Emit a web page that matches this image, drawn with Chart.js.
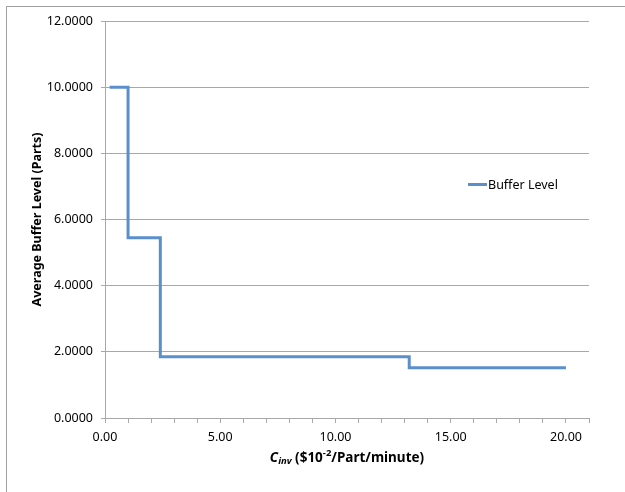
<!DOCTYPE html>
<html>
<head>
<meta charset="utf-8">
<script src="https://cdn.jsdelivr.net/npm/chart.js@4/dist/chart.umd.min.js"></script>
<style>
  html, body { margin: 0; padding: 0; background: #fff; }
  #wrap { width: 625px; height: 492px; position: relative; }
</style>
</head>
<body>
<div id="wrap"><canvas id="myChart" width="625" height="492"></canvas></div>
<script>
// step points
const costs = [0.2, 1.0, 2.4, 13.2, 20.0];
const bufferLevels = [10.0, 5.45, 1.85, 1.52, 1.52];
const seriesName = 'Buffer Level';
const yTitle = 'Average Buffer Level (Parts)';

const FONT = "'Noto Sans', 'Liberation Sans', sans-serif";
const lineColor = '#5b8fcb';
const gridColor = '#a8a8a8';

const points = costs.map((c, i) => ({ x: c, y: bufferLevels[i] }));

// frame, legend and axis titles (x title has sub/superscript)
const extras = {
  id: 'extras',
  beforeDraw(chart) {
    const ctx = chart.ctx;
    ctx.save();
    ctx.fillStyle = '#fff';
    ctx.fillRect(0, 0, chart.width, chart.height);
    ctx.strokeStyle = '#a0a0a0';
    ctx.lineWidth = 1;
    ctx.strokeRect(6.5, 6.5, chart.width + 20, chart.height + 20);
    ctx.restore();
  },
  afterDraw(chart) {
    const ctx = chart.ctx;
    const area = chart.chartArea;
    ctx.save();

    // legend
    ctx.strokeStyle = lineColor;
    ctx.lineWidth = 3;
    ctx.beginPath();
    ctx.moveTo(468, 184.5);
    ctx.lineTo(487, 184.5);
    ctx.stroke();
    ctx.fillStyle = '#000';
    ctx.font = '12.5px ' + FONT;
    ctx.textBaseline = 'middle';
    ctx.textAlign = 'left';
    ctx.fillText(seriesName, 488, 185);

    // y title
    ctx.save();
    ctx.translate(37, (area.top + area.bottom) / 2);
    ctx.rotate(-Math.PI / 2);
    ctx.textAlign = 'center';
    ctx.font = 'bold 12.5px ' + FONT;
    ctx.fillText(yTitle, 0, 0);
    ctx.restore();

    // x title: C_inv ($10^-2/Part/minute)
    const parts = [
      { t: 'C', f: 'italic bold 13.5px ' + FONT, dy: 0 },
      { t: 'inv', f: 'italic bold 9.5px ' + FONT, dy: 3 },
      { t: ' ($10', f: 'bold 13.5px ' + FONT, dy: 0 },
      { t: '-2', f: 'bold 9.5px ' + FONT, dy: -5 },
      { t: '/Part/minute)', f: 'bold 13.5px ' + FONT, dy: 0 }
    ];
    let total = 0;
    parts.forEach(p => { ctx.font = p.f; p.w = ctx.measureText(p.t).width; total += p.w; });
    let x = (area.left + area.right) / 2 - total / 2;
    const y = 458;
    parts.forEach(p => {
      ctx.font = p.f;
      ctx.fillText(p.t, x, y + p.dy);
      x += p.w;
    });
    ctx.restore();
  }
};

const config = {
  type: 'line',
  data: {
    datasets: [{
      label: seriesName,
      data: points,
      stepped: 'before',
      borderColor: lineColor,
      borderWidth: 3,
      pointRadius: 0,
      fill: false
    }]
  },
  options: {
    responsive: false,
    animation: false,
    layout: { padding: { top: 21, right: 36, left: 0, bottom: 0 } },
    plugins: {
      legend: { display: false },
      tooltip: { enabled: false }
    },
    scales: {
      x: {
        type: 'linear',
        min: 0,
        max: 21,
        afterFit(scale) { scale.height = 74; },
        ticks: {
          stepSize: 1,
          autoSkip: false,
          maxRotation: 0,
          padding: 7,
          color: '#000',
          font: { family: FONT, size: 12.5 },
          callback: v => (v % 5 === 0 ? v.toFixed(2) : '')
        },
        grid: {
          drawOnChartArea: false,
          tickLength: 5,
          tickColor: gridColor
        },
        border: { color: gridColor }
      },
      y: {
        min: 0,
        max: 12,
        afterFit(scale) { scale.width = 105; },
        ticks: {
          stepSize: 2,
          padding: 8,
          color: '#000',
          font: { family: FONT, size: 12.5 },
          callback: v => v.toFixed(4)
        },
        grid: {
          color: gridColor,
          tickLength: 4,
          tickColor: gridColor
        },
        border: { color: gridColor }
      }
    }
  },
  plugins: [extras]
};

const myChart = new Chart(document.getElementById('myChart'), config);
</script>
</body>
</html>
